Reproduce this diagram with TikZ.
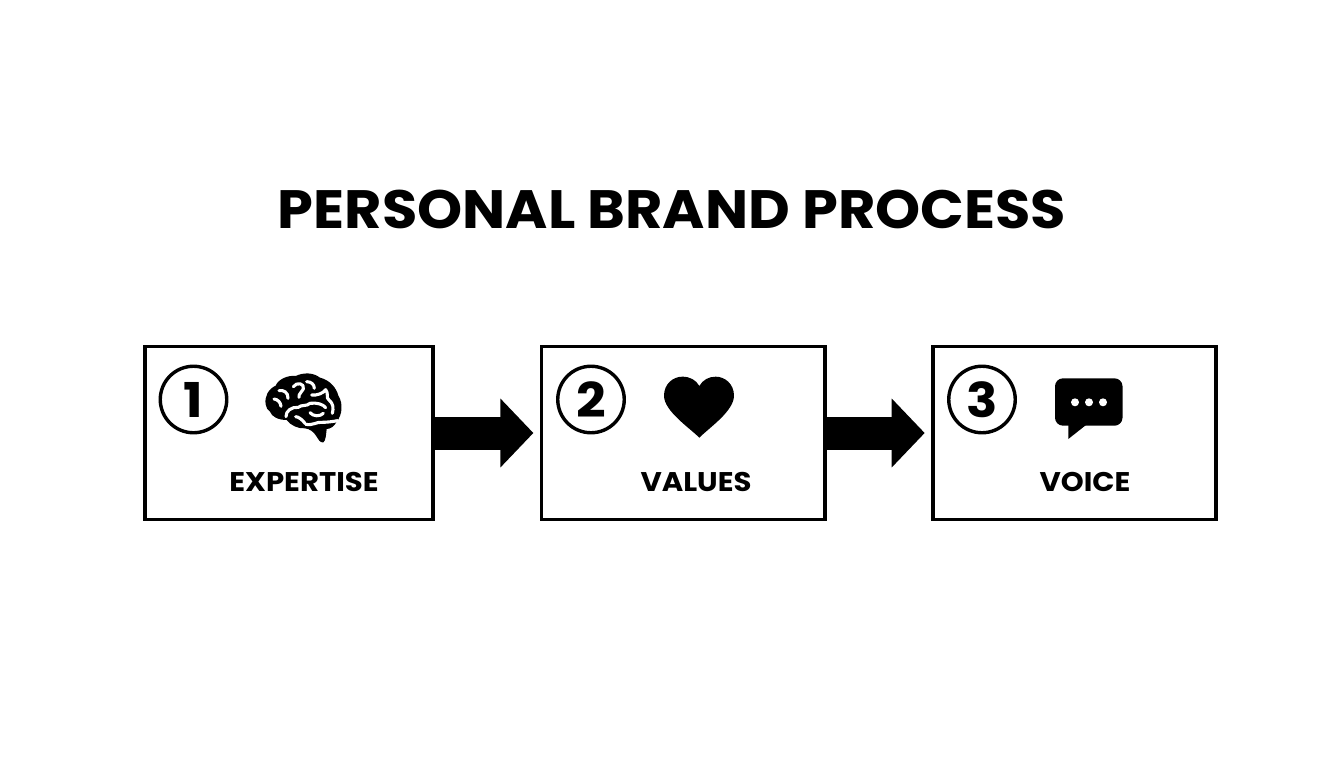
\documentclass[tikz,border=0pt]{standalone}
\usepackage{fontspec}
\setmainfont{Poppins}
\newfontfamily\wideface[FakeStretch=1.08]{Poppins}
\newfontfamily\titleface[FakeStretch=1.063]{Poppins}
\usetikzlibrary{arrows.meta}
\tikzset{
  box/.style={draw=black,line width=3.8pt,fill=white,inner sep=0pt,outer sep=0pt,minimum height=173pt},
  num/.style={draw=black,line width=3.4pt,circle,minimum size=66.5pt,inner sep=0pt,font=\fontsize{48}{48}\wideface\bfseries},
  lbl/.style={inner sep=0pt,font=\fontsize{27}{27}\wideface\bfseries},
  flow/.style={line width=33pt,black,shorten >=8pt,-{Triangle[length=33pt,width=67pt]}},
  fold/.style={draw=white,line width=3.1pt,line cap=round,line join=round},
  zoomed/.style={x=0.3333pt,y=-0.3333pt}
}
\begin{document}
\begin{tikzpicture}[x=1pt,y=-1pt]
\useasboundingbox (0,0) rectangle (1344,768);
\fill[white] (0,0) rectangle (1344,768);
\node[inner sep=0pt,font=\fontsize{54}{54}\titleface\bfseries] (title) at (672,209) {PERSONAL BRAND PROCESS};
\node[box,minimum width=288.4pt] (b1) at (288.9,433) {};
\node[box,minimum width=283.6pt] (b2) at (683.2,433) {};
\node[box,minimum width=283.6pt] (b3) at (1074.5,433) {};
\draw[flow] (b1.east) -- (b2.west);
\draw[flow] (b2.east) -- (b3.west);
\node[num] (n1) at (193.5,399.5) {1};
\node[num] (n2) at (591,399.5) {2};
\node[num] (n3) at (982,399.5) {3};
\node[lbl] (l1) at (304,482) {EXPERTISE};
\node[lbl] (l2) at (696,482) {VALUES};
\node[lbl] (l3) at (1085,482) {VOICE};
% brain
\begin{scope}[shift={(255,365)},zoomed]
\fill[black] (32,118) .. controls (28,95) and (40,72) .. (62,62)
  .. controls (70,42) and (100,30) .. (122,33)
  .. controls (145,22) and (175,22) .. (195,38)
  .. controls (225,45) and (245,70) .. (250,92)
  .. controls (265,115) and (262,150) .. (245,170)
  .. controls (238,185) and (225,192) .. (215,192)
  .. controls (213,210) and (212,228) .. (205,232)
  .. controls (195,235) and (190,222) .. (183,212)
  .. controls (175,200) and (165,192) .. (150,190)
  .. controls (130,192) and (105,180) .. (95,165)
  .. controls (70,165) and (50,155) .. (45,140)
  .. controls (38,135) and (33,128) .. (32,118) -- cycle;
\draw[fold] (57,102) .. controls (68,103) and (77,112) .. (78,124);
\draw[fold] (72,77) .. controls (85,74) and (100,82) .. (99,100);
\draw[fold] (115,65) .. controls (125,50) and (150,55) .. (145,72) .. controls (142,82) and (130,85) .. (132,97);
\draw[fold] (155,50) .. controls (168,50) and (178,58) .. (178,70);
\draw[fold] (170,90) .. controls (185,92) and (205,85) .. (212,74) .. controls (222,85) and (212,100) .. (222,105) .. controls (235,115) and (236,130) .. (232,145);
\draw[fold] (93,155) .. controls (92,138) and (110,125) .. (130,127) .. controls (140,118) and (155,125) .. (165,115) .. controls (185,112) and (205,118) .. (212,128);
\draw[fold] (122,155) .. controls (130,155) and (143,165) .. (150,175);
\draw[fold] (165,143) .. controls (175,155) and (195,155) .. (205,145);
\draw[fold] (152,178) .. controls (175,182) and (185,170) .. (200,172) .. controls (215,172) and (232,170) .. (248,167);
\end{scope}
% heart
\begin{scope}[shift={(650,365)},zoomed]
\fill[black] (148,218) .. controls (118,188) and (42,138) .. (42,92)
  .. controls (42,58) and (68,35) .. (97,35)
  .. controls (120,35) and (138,45) .. (148,63)
  .. controls (158,45) and (176,35) .. (197,35)
  .. controls (226,35) and (252,58) .. (252,92)
  .. controls (252,138) and (178,188) .. (148,218) -- cycle;
\end{scope}
% speech bubble
\fill[black,rounded corners=8pt] (1055,378.3) -- (1122.5,378.3) -- (1122.5,425.7) -- (1055,425.7) -- cycle;
\fill[black] (1068.3,420) -- (1068.3,439) -- (1086,425) -- cycle;
\fill[white] (1075,402.3) circle (4pt) (1089,402.3) circle (4pt) (1103,402.3) circle (4pt);
\end{tikzpicture}
\end{document}
